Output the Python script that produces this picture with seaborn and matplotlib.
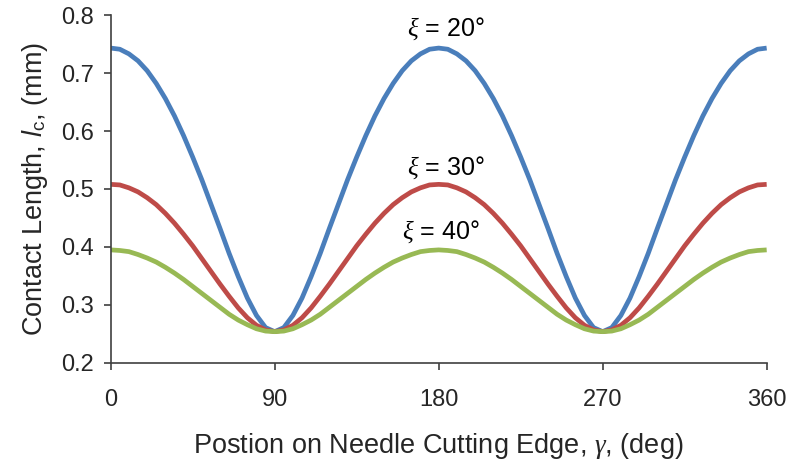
import matplotlib
matplotlib.use("Agg")
import matplotlib.pyplot as plt
import seaborn as sns
import pandas as pd

# Position on the cutting edge (deg)
gamma = list(range(0, 365, 5))

# Contact length l_c (mm) for each bevel angle
lc_xi20 = [0.743, 0.741, 0.733, 0.721, 0.704, 0.682, 0.656, 0.626, 0.592, 0.555,
           0.516, 0.474, 0.432, 0.389, 0.349, 0.312, 0.282, 0.261, 0.254,
           0.261, 0.282, 0.312, 0.349, 0.389, 0.432, 0.474, 0.516, 0.555,
           0.592, 0.626, 0.656, 0.682, 0.704, 0.721, 0.733, 0.741, 0.743,
           0.741, 0.733, 0.721, 0.704, 0.682, 0.656, 0.626, 0.592, 0.555,
           0.516, 0.474, 0.432, 0.389, 0.349, 0.312, 0.282, 0.261, 0.254,
           0.261, 0.282, 0.312, 0.349, 0.389, 0.432, 0.474, 0.516, 0.555,
           0.592, 0.626, 0.656, 0.682, 0.704, 0.721, 0.733, 0.741, 0.743]

lc_xi30 = [0.508, 0.507, 0.502, 0.495, 0.485, 0.473, 0.458, 0.441, 0.422, 0.402,
           0.380, 0.358, 0.336, 0.315, 0.295, 0.278, 0.265, 0.257, 0.254,
           0.257, 0.265, 0.278, 0.295, 0.315, 0.336, 0.358, 0.380, 0.402,
           0.422, 0.441, 0.458, 0.473, 0.485, 0.495, 0.502, 0.507, 0.508,
           0.507, 0.502, 0.495, 0.485, 0.473, 0.458, 0.441, 0.422, 0.402,
           0.380, 0.358, 0.336, 0.315, 0.295, 0.278, 0.265, 0.257, 0.254,
           0.257, 0.265, 0.278, 0.295, 0.315, 0.336, 0.358, 0.380, 0.402,
           0.422, 0.441, 0.458, 0.473, 0.485, 0.495, 0.502, 0.507, 0.508]

lc_xi40 = [0.395, 0.394, 0.392, 0.387, 0.381, 0.374, 0.365, 0.355, 0.344, 0.332,
           0.320, 0.308, 0.296, 0.284, 0.274, 0.266, 0.259, 0.255, 0.254,
           0.255, 0.259, 0.266, 0.274, 0.284, 0.296, 0.308, 0.320, 0.332,
           0.344, 0.355, 0.365, 0.374, 0.381, 0.387, 0.392, 0.394, 0.395,
           0.394, 0.392, 0.387, 0.381, 0.374, 0.365, 0.355, 0.344, 0.332,
           0.320, 0.308, 0.296, 0.284, 0.274, 0.266, 0.259, 0.255, 0.254,
           0.255, 0.259, 0.266, 0.274, 0.284, 0.296, 0.308, 0.320, 0.332,
           0.344, 0.355, 0.365, 0.374, 0.381, 0.387, 0.392, 0.394, 0.395]

series_names = ["xi20", "xi30", "xi40"]
series_labels = [r"$\xi$ = 20°", r"$\xi$ = 30°", r"$\xi$ = 40°"]
label_pos = [(184, 0.777), (184, 0.537), (181, 0.427)]
colors = ["#4A7EBB", "#BE4B48", "#98B954"]

x_ticks = [0, 90, 180, 270, 360]
y_ticks = [0.2, 0.3, 0.4, 0.5, 0.6, 0.7, 0.8]

sns.set_style("ticks")
plt.rcParams["font.family"] = ["Liberation Sans", "DejaVu Sans"]
plt.rcParams["mathtext.fontset"] = "custom"
plt.rcParams["mathtext.it"] = "Liberation Serif:italic"
plt.rcParams["mathtext.rm"] = "Liberation Sans"
plt.rcParams["mathtext.sf"] = "Liberation Sans:italic"

df = pd.DataFrame({
    "gamma": gamma * 3,
    "lc": lc_xi20 + lc_xi30 + lc_xi40,
    "series": [s for s in series_names for _ in gamma],
})

fig = plt.figure(figsize=(7.89, 4.65), dpi=100)
ax = fig.add_axes([0.1403, 0.2194, 0.8314, 0.7483])

sns.lineplot(data=df, x="gamma", y="lc", hue="series",
             palette=dict(zip(series_names, colors)),
             linewidth=3.4, legend=False, ax=ax, solid_capstyle="butt",
             solid_joinstyle="round")

for (tx, ty), txt in zip(label_pos, series_labels):
    ax.text(tx, ty, txt, ha="center", va="center", fontsize=18, color="black")

ax.set_xlim(0, 360)
ax.set_ylim(0.2, 0.8)
ax.set_xticks(x_ticks)
ax.set_yticks(y_ticks)
ax.set_xticklabels([str(v) for v in x_ticks])
ax.set_yticklabels([f"{v:.1f}" for v in y_ticks])
ax.tick_params(axis="both", labelsize=17, length=5, width=1.2, color="#404040",
               direction="out")
ax.tick_params(axis="x", pad=14)
ax.tick_params(axis="y", pad=7)

ax.set_xlabel(r"Postion on Needle Cutting Edge, $\gamma$, (deg)", fontsize=19.5,
              labelpad=14)
ax.set_ylabel(r"Contact Length, $\mathsf{l}_\mathrm{c}$, (mm)", fontsize=19.5,
              labelpad=8)

for side in ["top", "right"]:
    ax.spines[side].set_visible(False)
for side in ["left", "bottom"]:
    ax.spines[side].set_color("#404040")
    ax.spines[side].set_linewidth(1.2)

fig.savefig("out.png", dpi=100, facecolor="white")
